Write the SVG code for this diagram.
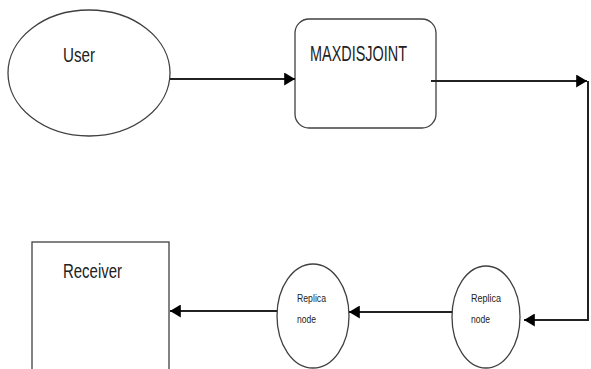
<svg xmlns="http://www.w3.org/2000/svg" width="591" height="369" viewBox="0 0 591 369">
<style>
.shape{fill:#fff;stroke:#404040;stroke-width:1.3}
.conn{fill:none;stroke:#222;stroke-width:2}
.lbl{font-family:"Liberation Sans",Arial,sans-serif;fill:#222}
.big{font-size:20px}
.mid{font-size:22px}
.small{font-size:11px}
</style>
<defs>
<marker id="arr" viewBox="0 0 10 12" refX="10" refY="6" markerWidth="5.5" markerHeight="6.5" orient="auto" markerUnits="strokeWidth">
<path d="M0,0 L10,6 L0,12 Z" fill="#000"/>
</marker>
</defs>
<rect width="591" height="369" fill="#fff"/>
<g id="user">
<ellipse class="shape" cx="89" cy="73" rx="81" ry="63"/>
<text class="lbl big" x="63" y="62" textLength="32" lengthAdjust="spacingAndGlyphs">User</text>
</g>
<g id="maxdisjoint">
<rect class="shape" x="295" y="19" width="141" height="109" rx="14" ry="14"/>
<text class="lbl mid" x="310" y="61" textLength="97" lengthAdjust="spacingAndGlyphs">MAXDISJOINT</text>
</g>
<g id="replica2">
<ellipse class="shape" cx="486" cy="317" rx="34" ry="51"/>
<text class="lbl small" x="471" y="302" textLength="30" lengthAdjust="spacingAndGlyphs">Replica</text>
<text class="lbl small" x="471" y="323" textLength="19" lengthAdjust="spacingAndGlyphs">node</text>
</g>
<g id="replica1">
<ellipse class="shape" cx="313" cy="316" rx="36" ry="52"/>
<text class="lbl small" x="297" y="302" textLength="29" lengthAdjust="spacingAndGlyphs">Replica</text>
<text class="lbl small" x="297" y="323" textLength="19" lengthAdjust="spacingAndGlyphs">node</text>
</g>
<g id="receiver">
<rect class="shape" x="32" y="242" width="137" height="140"/>
<text class="lbl big" x="63" y="278" textLength="59" lengthAdjust="spacingAndGlyphs">Receiver</text>
</g>
<g id="connectors">
<path class="conn" d="M170,79 H295" marker-end="url(#arr)"/>
<path class="conn" d="M431,81 H587" marker-end="url(#arr)"/>
<path class="conn" d="M588,81 V320 H524" marker-end="url(#arr)"/>
<path class="conn" d="M452,312 H349" marker-end="url(#arr)"/>
<path class="conn" d="M277,311 H170" marker-end="url(#arr)"/>
</g>
</svg>
